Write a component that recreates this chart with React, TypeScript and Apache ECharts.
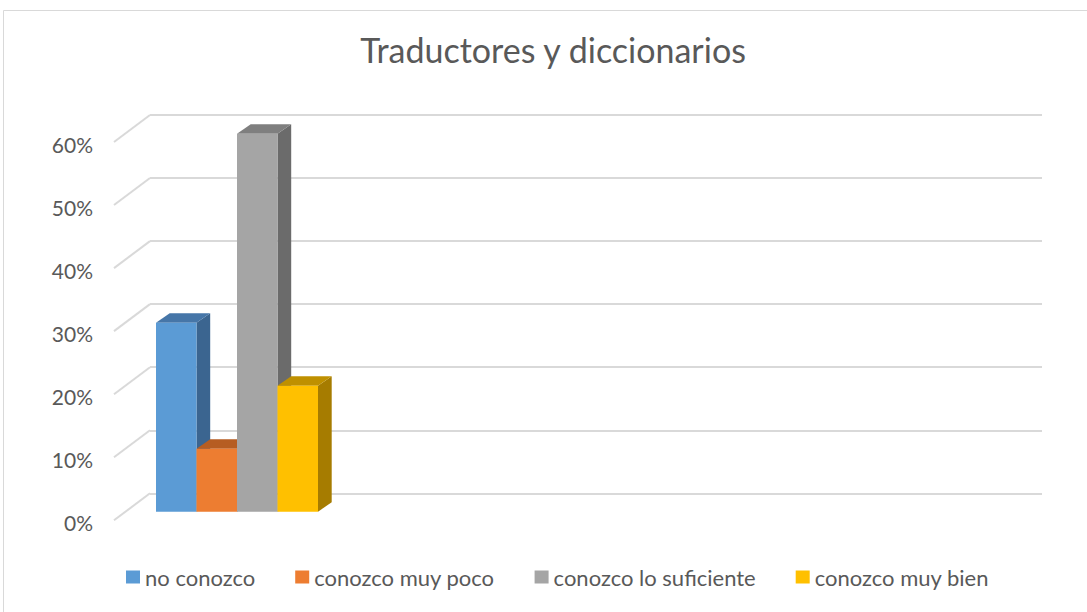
import React, { useEffect, useRef } from "react";
import * as echarts from "echarts";

const TITLE = "Traductores y diccionarios";
const CATEGORY = "Traductores y diccionarios";
const SERIES_NAMES = ["no conozco", "conozco muy poco", "conozco lo suficiente", "conozco muy bien"];
const SERIES_VALUES = [0.3, 0.1, 0.6, 0.2];
const FRONT_COLORS = ["#5b9bd5", "#ed7d31", "#a5a5a5", "#ffc000"];
const TOP_COLORS = ["#4676a8", "#b65d22", "#7f7f7f", "#bf9000"];
const SIDE_COLORS = ["#3b6590", "#9c4f1c", "#6b6b6b", "#a67c00"];
const Y_TICKS = [0, 0.1, 0.2, 0.3, 0.4, 0.5, 0.6];

const FONT = "Lato";
const TEXT_COLOR = "#595959";
const GRID_COLOR = "#d9d9d9";
const DEPTH_X = 13.7;
const DEPTH_Y = -9.5;
const WALL_DX = -36;
const WALL_DY = 27;

export default function App() {
  const ref = useRef<HTMLDivElement>(null);
  useEffect(() => {
    if (!ref.current) return;
    const chart = echarts.init(ref.current, null, { renderer: "svg" });

    const barSeries = SERIES_NAMES.map((name, i) => ({
      type: "custom",
      name,
      xAxisIndex: 2,
      yAxisIndex: 2,
      itemStyle: { color: FRONT_COLORS[i] },
      data: [[0, SERIES_VALUES[i]]],
      renderItem: (params: any, api: any) => {
        const cat = api.value(0);
        const v = api.value(1);
        const base = api.coord([cat, 0]);
        const topPt = api.coord([cat, v]);
        const catW = api.size([1, 0])[0];
        const barW = catW / SERIES_NAMES.length;
        const x0 = base[0] - catW / 2 + i * barW;
        const x1 = x0 + barW;
        const yb = base[1];
        const yt = topPt[1];
        return {
          type: "group",
          children: [
            {
              type: "polygon",
              shape: {
                points: [
                  [x1, yt],
                  [x1 + DEPTH_X, yt + DEPTH_Y],
                  [x1 + DEPTH_X, yb + DEPTH_Y],
                  [x1, yb],
                ],
              },
              style: { fill: SIDE_COLORS[i] },
            },
            {
              type: "polygon",
              shape: {
                points: [
                  [x0, yt],
                  [x0 + DEPTH_X, yt + DEPTH_Y],
                  [x1 + DEPTH_X, yt + DEPTH_Y],
                  [x1, yt],
                ],
              },
              style: { fill: TOP_COLORS[i] },
            },
            {
              type: "rect",
              shape: { x: x0, y: yt, width: barW, height: yb - yt },
              style: { fill: FRONT_COLORS[i] },
            },
          ],
        };
      },
    }));

    const wallSeries = {
      type: "custom",
      name: "wall",
      xAxisIndex: 0,
      yAxisIndex: 0,
      silent: true,
      data: Y_TICKS.map((t) => [0, t]),
      renderItem: (params: any, api: any) => {
        const p = api.coord([api.value(0), api.value(1)]);
        return {
          type: "line",
          shape: { x1: p[0], y1: p[1], x2: p[0] + WALL_DX, y2: p[1] + WALL_DY },
          style: { stroke: GRID_COLOR, lineWidth: 2 },
        };
      },
    };

    chart.setOption({
      animation: false,
      backgroundColor: "#ffffff",
      title: {
        text: TITLE,
        left: 548,
        textAlign: "center",
        top: 27,
        textStyle: { fontFamily: FONT, fontSize: 34, fontWeight: "normal", color: TEXT_COLOR },
      },
      legend: {
        data: SERIES_NAMES,
        left: 121,
        top: 561,
        icon: "rect",
        itemWidth: 14,
        itemHeight: 13,
        itemGap: 40,
        textStyle: { fontFamily: FONT, fontSize: 22, color: TEXT_COLOR },
        selectedMode: false,
      },
      graphic: [
        {
          type: "rect",
          silent: true,
          z: -10,
          shape: { x: 3.5, y: 10.5, width: 1100, height: 700 },
          style: { fill: "none", stroke: GRID_COLOR, lineWidth: 1 },
        },
      ],
      grid: [
        { left: 150, top: 115, width: 892, height: 378.3 },
        { left: 114, top: 144, width: 10, height: 378.3 },
        { left: 156, top: 133.7, width: 162, height: 378 },
      ],
      xAxis: [
        { type: "value", gridIndex: 0, min: 0, max: 1, show: false },
        { type: "value", gridIndex: 1, min: 0, max: 1, show: false },
        { type: "category", gridIndex: 2, data: [CATEGORY], show: false },
      ],
      yAxis: [
        {
          type: "value",
          gridIndex: 0,
          min: 0,
          max: 0.6,
          interval: 0.1,
          axisLabel: { show: false },
          axisLine: { show: false },
          axisTick: { show: false },
          splitLine: { show: true, lineStyle: { color: GRID_COLOR, width: 2 } },
        },
        {
          type: "value",
          gridIndex: 1,
          min: 0,
          max: 0.6,
          interval: 0.1,
          axisLine: { show: false },
          axisTick: { show: false },
          splitLine: { show: false },
          axisLabel: {
            margin: 21,
            fontFamily: FONT,
            fontSize: 21,
            color: TEXT_COLOR,
            formatter: (v: number) => `${Math.round(v * 100)}%`,
          },
        },
        { type: "value", gridIndex: 2, min: 0, max: 0.6, show: false },
      ],
      series: [wallSeries, ...barSeries],
    });

    return () => chart.dispose();
  }, []);

  return (
    <div
      ref={ref}
      style={{ position: "fixed", left: 0, top: 0, width: 1087, height: 612 }}
    />
  );
}
